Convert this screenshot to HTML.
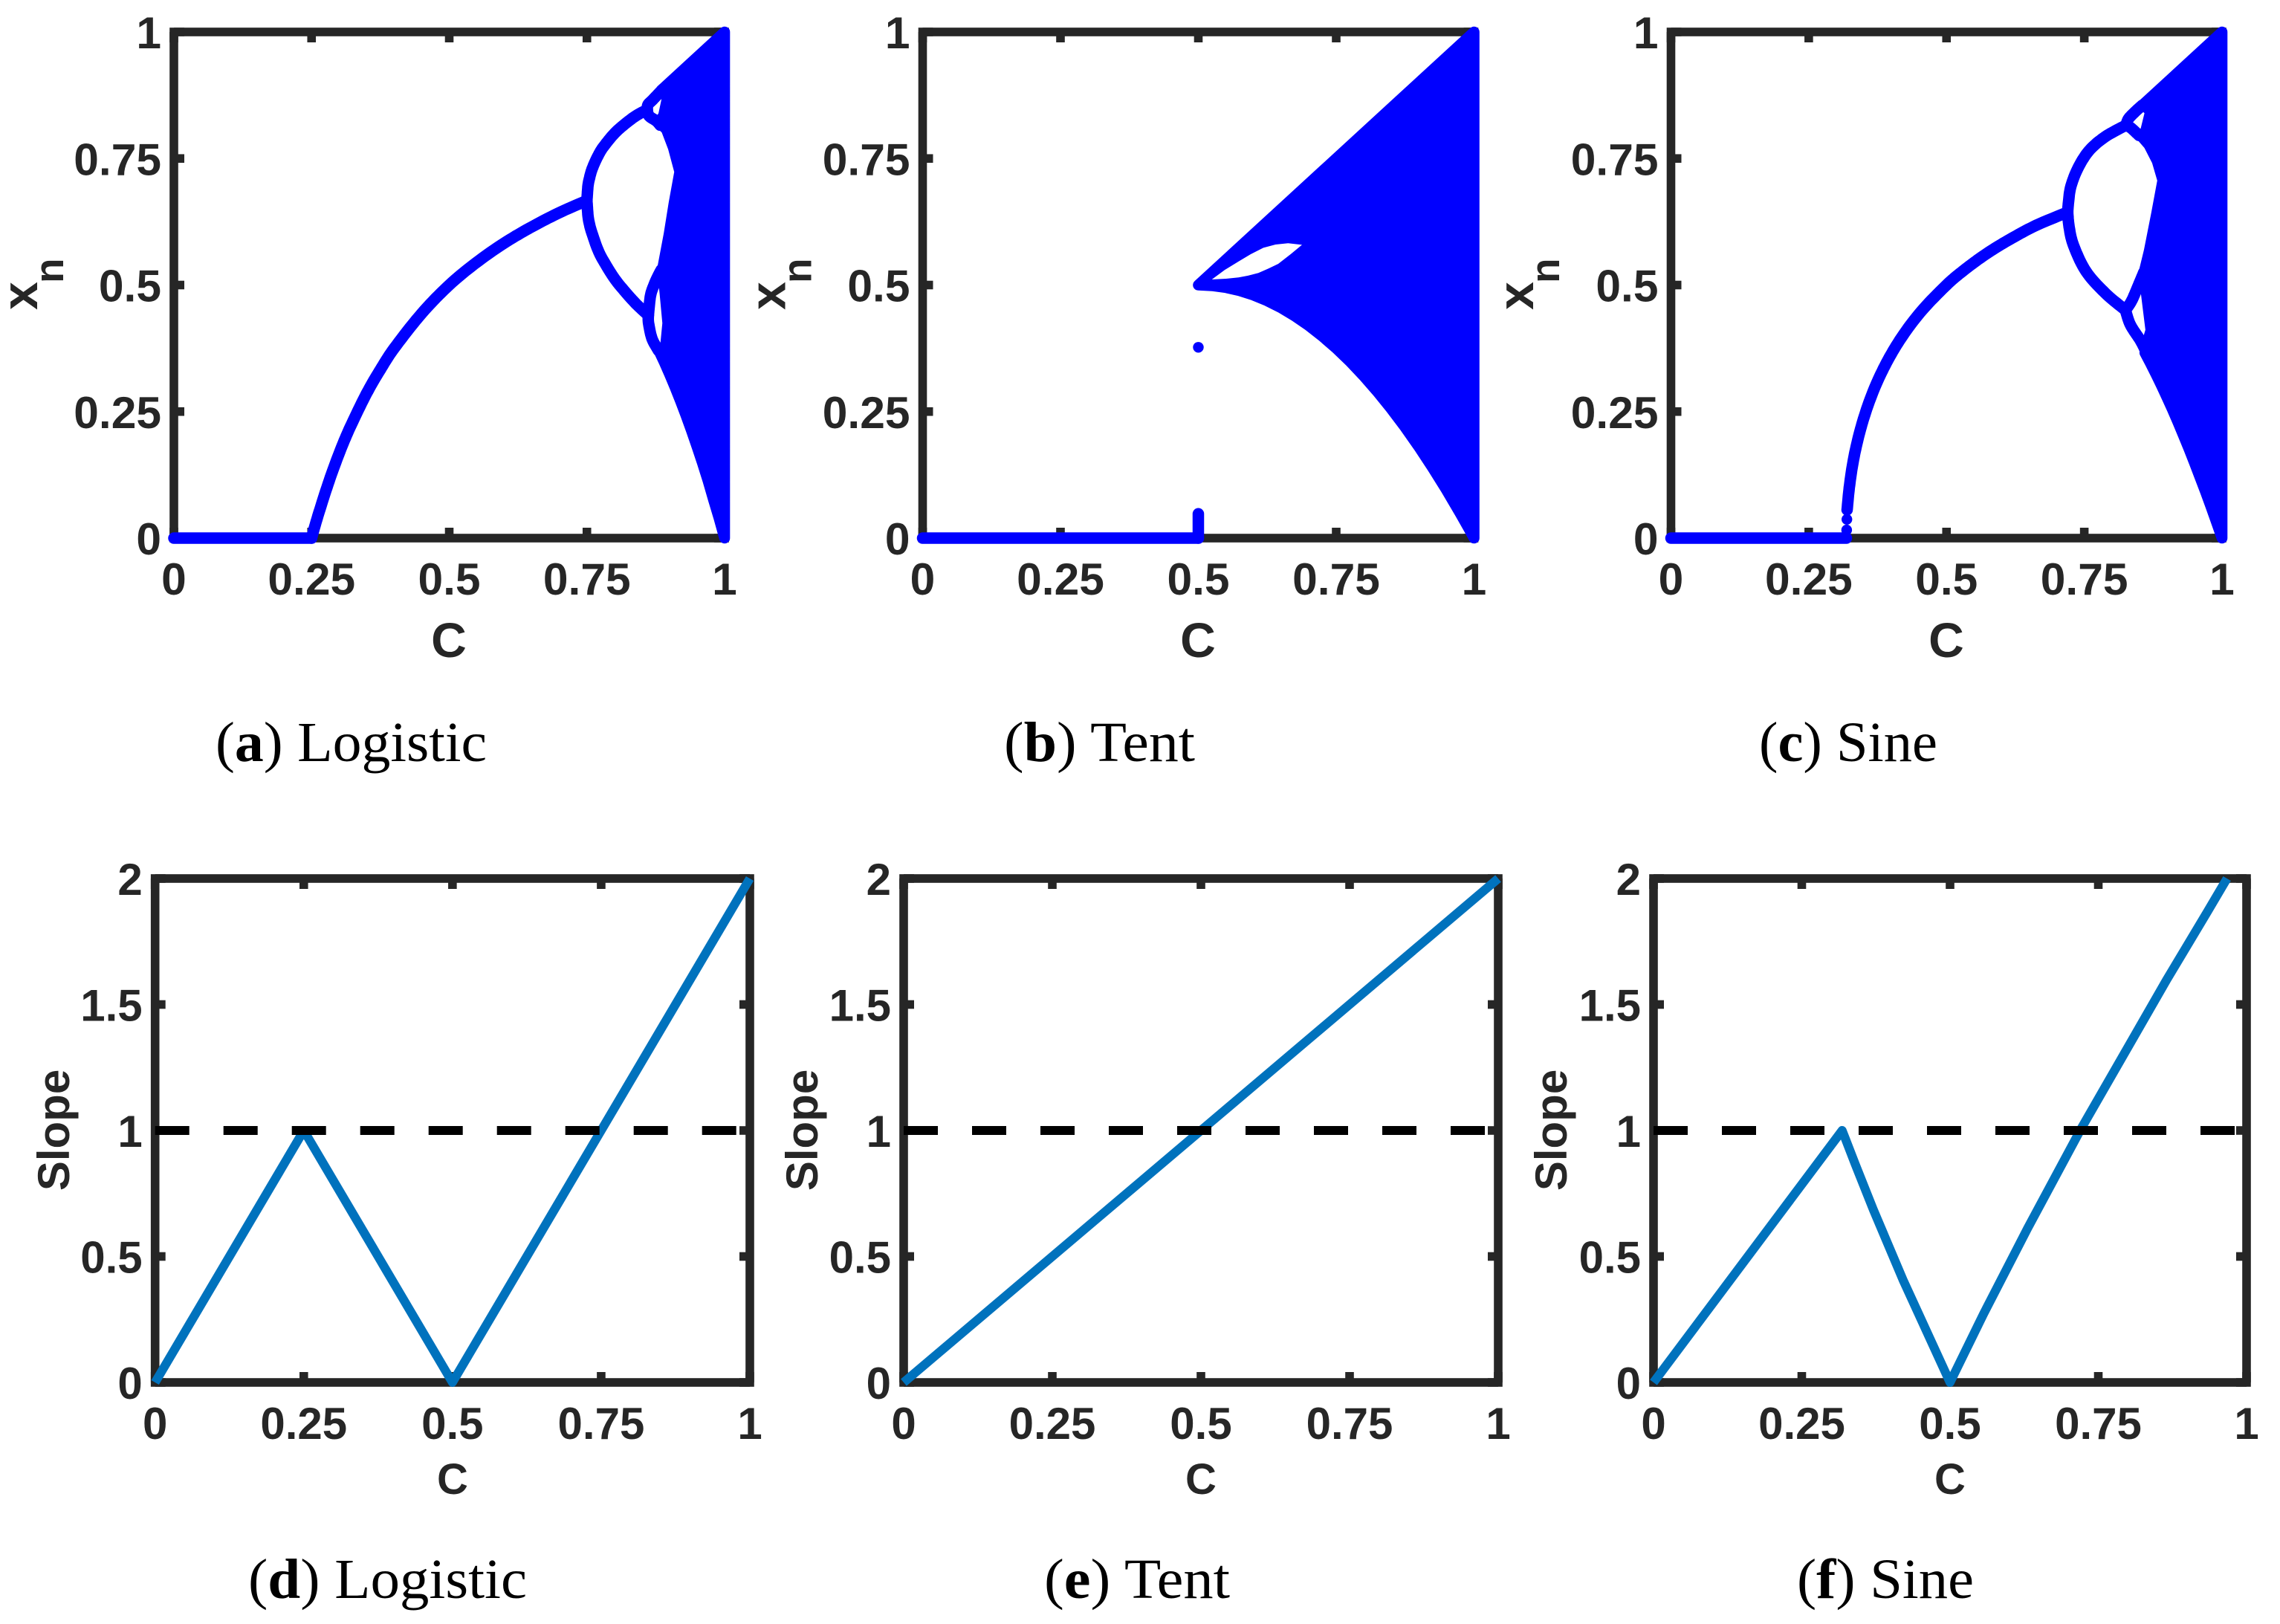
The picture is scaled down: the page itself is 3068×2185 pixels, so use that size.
<!DOCTYPE html>
<html lang="en">
<head>
<meta charset="utf-8">
<title>Bifurcation diagrams and slope plots</title>
<style>
html,body{margin:0;padding:0;background:#fff;}
svg{display:block;}
.tick{font-family:"Liberation Sans",Arial,sans-serif;font-weight:700;fill:#262626;}
.title{font-family:"Liberation Sans",Arial,sans-serif;font-weight:700;fill:#262626;}
.cap{font-family:"Liberation Serif",serif;font-size:76px;fill:#000;}
.cap tspan{font-weight:700;}
</style>
</head>
<body>
<svg id="fig" xmlns="http://www.w3.org/2000/svg" width="3068" height="2185" viewBox="0 0 3068 2185">
  <rect x="0" y="0" width="3068" height="2185" fill="#fff"/>

  <g id="panel-a"></g>
  <g id="panel-b"></g>
  <g id="panel-c"></g>
  <g id="panel-d"></g>
  <g id="panel-e"></g>
  <g id="panel-f"></g>

  <text class="title" x="604" y="884" font-size="66" text-anchor="middle">C</text>
  <text class="title" x="1612" y="884" font-size="66" text-anchor="middle">C</text>
  <text class="title" x="2619" y="884" font-size="66" text-anchor="middle">C</text>
  <text class="title" x="609" y="2010" font-size="58" text-anchor="middle">C</text>
  <text class="title" x="1616" y="2010" font-size="58" text-anchor="middle">C</text>
  <text class="title" x="2624" y="2010" font-size="58" text-anchor="middle">C</text>

  <g>
    <text class="title" transform="translate(50,417) rotate(-90)" font-size="68">x</text>
    <text class="title" transform="translate(85,381) rotate(-90)" font-size="55">n</text>
  </g>
  <g>
    <text class="title" transform="translate(1056.5,417) rotate(-90)" font-size="68">x</text>
    <text class="title" transform="translate(1091.5,381) rotate(-90)" font-size="55">n</text>
  </g>
  <g>
    <text class="title" transform="translate(2063,417) rotate(-90)" font-size="68">x</text>
    <text class="title" transform="translate(2098,381) rotate(-90)" font-size="55">n</text>
  </g>
  <text class="title" transform="translate(93,1520.5) rotate(-90)" font-size="60" text-anchor="middle">Slope</text>
  <text class="title" transform="translate(1100,1520.5) rotate(-90)" font-size="60" text-anchor="middle">Slope</text>
  <text class="title" transform="translate(2108,1520.5) rotate(-90)" font-size="60" text-anchor="middle">Slope</text>

  <text class="cap" x="290" y="1024" textLength="365" lengthAdjust="spacingAndGlyphs">(<tspan>a</tspan>) Logistic</text>
  <text class="cap" x="1351" y="1024" textLength="257" lengthAdjust="spacingAndGlyphs">(<tspan>b</tspan>) Tent</text>
  <text class="cap" x="2367" y="1024" textLength="240" lengthAdjust="spacingAndGlyphs">(<tspan>c</tspan>) Sine</text>
  <text class="cap" x="334" y="2150" textLength="375" lengthAdjust="spacingAndGlyphs">(<tspan>d</tspan>) Logistic</text>
  <text class="cap" x="1405" y="2150" textLength="250" lengthAdjust="spacingAndGlyphs">(<tspan>e</tspan>) Tent</text>
  <text class="cap" x="2418" y="2150" textLength="238" lengthAdjust="spacingAndGlyphs">(<tspan>f</tspan>) Sine</text>
</svg>

<script>
// ---------- tick labels ----------
var cTicks = [0, 0.25, 0.5, 0.75, 1];
var xnTicks = [0, 0.25, 0.5, 0.75, 1];
var slopeTicks = [0, 0.5, 1, 1.5, 2];

// ---------- logistic bifurcation values ----------
var logisticZeroC = [0, 0.25];
var logisticZeroX = [0, 0];
var logisticFixedC = [0.25, 0.26, 0.28, 0.3, 0.32, 0.35, 0.375, 0.4, 0.45, 0.5, 0.55, 0.6, 0.65, 0.7, 0.75];
var logisticFixedX = [0, 0.0385, 0.107, 0.167, 0.219, 0.286, 0.333, 0.375, 0.444, 0.5, 0.545, 0.583, 0.615, 0.643, 0.667];
var logisticUpperC = [0.75, 0.752, 0.755, 0.76, 0.77, 0.78, 0.8, 0.82, 0.84, 0.8595];
var logisticUpperX = [0.667, 0.696, 0.7125, 0.731, 0.755, 0.773, 0.7995, 0.819, 0.835, 0.8465];
var logisticLowerC = [0.75, 0.752, 0.755, 0.76, 0.77, 0.78, 0.8, 0.82, 0.84, 0.8616];
var logisticLowerX = [0.667, 0.637, 0.6186, 0.6, 0.5696, 0.548, 0.513, 0.486, 0.462, 0.44];
var logisticLoop1C = [0.8595, 0.861, 0.8695, 0.883];
var logisticLoop1X = [0.8465, 0.8565, 0.866, 0.8815];
var logisticLoop2C = [0.8595, 0.8628, 0.8763, 0.883];
var logisticLoop2X = [0.8465, 0.8342, 0.824, 0.8158];
var logisticLoop3C = [0.8616, 0.8655, 0.8727, 0.8799, 0.885];
var logisticLoop3X = [0.44, 0.4789, 0.5025, 0.5195, 0.53];
var logisticLoop4C = [0.8616, 0.862, 0.8682, 0.8799];
var logisticLoop4X = [0.44, 0.4248, 0.3943, 0.3706];
var logisticChaosC = [0.885, 1, 1, 0.99, 0.98, 0.97, 0.96, 0.95, 0.94, 0.93, 0.92, 0.91, 0.9, 0.89, 0.88, 0.8925, 0.8969, 0.8916, 0.887, 0.8992, 0.9082, 0.9186, 0.9069, 0.8943, 0.8813, 0.8893, 0.8961];
var logisticChaosX = [0.885, 1, 0, 0.0392, 0.0753, 0.1129, 0.1475, 0.1805, 0.212, 0.2421, 0.2708, 0.2981, 0.324, 0.3486, 0.3717, 0.375, 0.4246, 0.486, 0.53, 0.6, 0.6615, 0.724, 0.7717, 0.8076, 0.8208, 0.8355, 0.87];

// ---------- tent bifurcation values ----------
var tentZeroC = [0, 0.5];
var tentZeroX = [0, 0];
var tentStemC = [0.5, 0.5];
var tentStemX = [0, 0.048];
var tentDotC = [0.5];
var tentDotX = [0.377];
var tentChaosC = [0.5, 1, 1, 0.99, 0.975, 0.95, 0.925, 0.9, 0.875, 0.85, 0.825, 0.8, 0.775, 0.75, 0.725, 0.7, 0.675, 0.65, 0.625, 0.6, 0.575, 0.55, 0.525];
var tentChaosX = [0.5, 1, 0, 0.0198, 0.04875, 0.095, 0.13875, 0.18, 0.21875, 0.255, 0.28875, 0.32, 0.34875, 0.375, 0.39875, 0.42, 0.43875, 0.455, 0.46875, 0.48, 0.48875, 0.495, 0.49875];
var tentGapC = [0.5245, 0.548, 0.573, 0.595, 0.6179, 0.64, 0.6628, 0.688, 0.668, 0.6449, 0.627, 0.6089, 0.59, 0.573, 0.55];
var tentGapX = [0.511, 0.53, 0.5467, 0.561, 0.5736, 0.58, 0.5825, 0.5795, 0.5615, 0.5419, 0.5325, 0.5238, 0.5185, 0.515, 0.5125];

// ---------- sine bifurcation values ----------
var sineZeroC = [0, 0.3183];
var sineZeroX = [0, 0];
var sineFixedC = [0.3196, 0.3236, 0.3304, 0.3403, 0.3536, 0.3708, 0.3928, 0.4206, 0.4556, 0.5, 0.5266, 0.5569, 0.5913, 0.6309, 0.6668, 0.7199];
var sineFixedX = [0.056, 0.1, 0.15, 0.2, 0.25, 0.3, 0.35, 0.4, 0.45, 0.5, 0.525, 0.55, 0.575, 0.6, 0.62, 0.644];
var sineDotC = [0.3188, 0.3192];
var sineDotX = [0.016, 0.037];
var sineUpperC = [0.7199, 0.7215, 0.7258, 0.7393, 0.7595, 0.7887, 0.8256];
var sineUpperX = [0.644, 0.665, 0.6954, 0.7327, 0.7665, 0.7935, 0.8158];
var sineLowerC = [0.7199, 0.7225, 0.7303, 0.7528, 0.7878, 0.8247];
var sineLowerX = [0.644, 0.615, 0.579, 0.5276, 0.4843, 0.4505];
var sineLoop1C = [0.8256, 0.83, 0.84, 0.855];
var sineLoop1X = [0.8158, 0.828, 0.84, 0.855];
var sineLoop2C = [0.8256, 0.8345, 0.8494];
var sineLoop2X = [0.8158, 0.8105, 0.7956];
var sineLoop3C = [0.8247, 0.8359, 0.8494, 0.858];
var sineLoop3X = [0.4505, 0.4687, 0.5025, 0.525];
var sineLoop4C = [0.8247, 0.8337, 0.8516, 0.8606];
var sineLoop4X = [0.4505, 0.4214, 0.3909, 0.372];
var sineChaosC = [0.857, 1, 1, 0.99, 0.98, 0.97, 0.96, 0.95, 0.94, 0.93, 0.92, 0.91, 0.9, 0.89, 0.88, 0.87, 0.86, 0.8665, 0.871, 0.862, 0.858, 0.8678, 0.8813, 0.8925, 0.8823, 0.8674, 0.8557, 0.862, 0.8701];
var sineChaosX = [0.857, 1, 0, 0.0311, 0.0615, 0.0913, 0.1203, 0.1486, 0.1762, 0.2027, 0.2288, 0.2539, 0.2781, 0.3014, 0.3239, 0.3455, 0.3662, 0.3943, 0.4105, 0.4888, 0.5228, 0.5668, 0.6413, 0.7069, 0.7452, 0.7768, 0.7915, 0.807, 0.8429];

// ---------- slope values ----------
var logisticSlopeC = [0, 0.25, 0.5, 1];
var logisticSlopeS = [0, 1, 0, 2];
var tentSlopeC = [0, 1];
var tentSlopeS = [0, 2];
var sineSlopeC = [0, 0.318, 0.3236, 0.3403, 0.3708, 0.4206, 0.5, 0.5569, 0.6309, 0.7206, 0.8653, 0.9345, 0.967];
var sineSlopeS = [0, 1, 0.967, 0.865, 0.685, 0.408, 0, 0.2737, 0.6124, 1.005, 1.598, 1.87, 2];
var thresholdC = [0, 1];
var thresholdS = [1, 1];

var NS = 'http://www.w3.org/2000/svg';
var MARKER = '#0000ff';
var INK = '#262626';

function node(parent, tag) {
  var el = document.createElementNS(NS, tag);
  parent.appendChild(el);
  return el;
}
function scaleX(ax, v) { return ax.left + (ax.right - ax.left) * v / ax.xMax; }
function scaleY(ax, v) { return ax.bottom - (ax.bottom - ax.top) * v / ax.yMax; }
function pointsOf(ax, xs, ys) {
  var out = [];
  for (var i = 0; i < xs.length; i++) out.push(scaleX(ax, xs[i]).toFixed(1) + ',' + scaleY(ax, ys[i]).toFixed(1));
  return out.join(' ');
}
// Catmull-Rom smoothing through the data values, in pixel space
function smoothPointsOf(ax, xs, ys) {
  var px = xs.map(function (v) { return scaleX(ax, v); });
  var py = ys.map(function (v) { return scaleY(ax, v); });
  var n = px.length, out = [];
  if (n < 3) return pointsOf(ax, xs, ys);
  for (var i = 0; i < n - 1; i++) {
    var a = Math.max(i - 1, 0), b = i, c = i + 1, d = Math.min(i + 2, n - 1);
    for (var k = 0; k < 10; k++) {
      var t = k / 10, t2 = t * t, t3 = t2 * t;
      var x = 0.5 * (2 * px[b] + (px[c] - px[a]) * t + (2 * px[a] - 5 * px[b] + 4 * px[c] - px[d]) * t2 + (3 * px[b] - px[a] - 3 * px[c] + px[d]) * t3);
      var y = 0.5 * (2 * py[b] + (py[c] - py[a]) * t + (2 * py[a] - 5 * py[b] + 4 * py[c] - py[d]) * t2 + (3 * py[b] - py[a] - 3 * py[c] + py[d]) * t3);
      out.push(x.toFixed(1) + ',' + y.toFixed(1));
    }
  }
  out.push(px[n - 1].toFixed(1) + ',' + py[n - 1].toFixed(1));
  return out.join(' ');
}
function drawAxes(g, ax, yTicks, fontSize) {
  var frame = node(g, 'rect');
  
  
  frame.setAttribute('x', ax.left);
  frame.setAttribute('y', ax.top);
  frame.setAttribute('width', ax.right - ax.left);
  frame.setAttribute('height', ax.bottom - ax.top);
  frame.setAttribute('fill', 'none');
  frame.setAttribute('stroke', INK);
  frame.setAttribute('stroke-width', '11.6');
  cTicks.forEach(function (t) {
    var x = scaleX(ax, t);
    [[ax.bottom, ax.bottom - 14], [ax.top, ax.top + 14]].forEach(function (p) {
      var m = node(g, 'line');
      
      
      m.setAttribute('x1', x);
      m.setAttribute('x2', x);
      m.setAttribute('y1', p[0]);
      m.setAttribute('y2', p[1]);
      m.setAttribute('stroke', INK);
      m.setAttribute('stroke-width', '11.6');
    });
    var label = node(g, 'text');
    
    
    label.setAttribute('class', 'tick');
    label.setAttribute('x', x);
    label.setAttribute('y', ax.bottom + 76);
    label.setAttribute('font-size', fontSize);
    label.setAttribute('text-anchor', 'middle');
    label.textContent = String(t);
  });
  yTicks.forEach(function (t) {
    var y = scaleY(ax, t);
    [[ax.left, ax.left + 14], [ax.right, ax.right - 14]].forEach(function (p) {
      var m = node(g, 'line');
      
      
      m.setAttribute('x1', p[0]);
      m.setAttribute('x2', p[1]);
      m.setAttribute('y1', y);
      m.setAttribute('y2', y);
      m.setAttribute('stroke', INK);
      m.setAttribute('stroke-width', '11.6');
    });
    var label = node(g, 'text');
    
    
    label.setAttribute('class', 'tick');
    label.setAttribute('x', ax.left - 17);
    label.setAttribute('y', y + 22);
    label.setAttribute('font-size', fontSize);
    label.setAttribute('text-anchor', 'end');
    label.textContent = String(t);
  });
}
function drawBranch(g, ax, xs, ys) {
  var l = node(g, 'polyline');
  
  
  l.setAttribute('points', smoothPointsOf(ax, xs, ys));
  l.setAttribute('fill', 'none');
  l.setAttribute('stroke', MARKER);
  l.setAttribute('stroke-width', '15.5');
  l.setAttribute('stroke-linecap', 'round');
  l.setAttribute('stroke-linejoin', 'round');
}
function drawChaos(g, ax, xs, ys) {
  var p = node(g, 'polygon');
  
  
  p.setAttribute('points', pointsOf(ax, xs, ys));
  p.setAttribute('fill', MARKER);
  p.setAttribute('stroke', MARKER);
  p.setAttribute('stroke-width', '14.6');
  p.setAttribute('stroke-linejoin', 'round');
}
function drawGap(g, ax, xs, ys) {
  var p = node(g, 'polygon');
  
  
  p.setAttribute('points', pointsOf(ax, xs, ys));
  p.setAttribute('fill', '#fff');
}
function drawDots(g, ax, xs, ys, r) {
  xs.forEach(function (v, i) {
    var c = node(g, 'circle');
    
    
    c.setAttribute('cx', scaleX(ax, v));
    c.setAttribute('cy', scaleY(ax, ys[i]));
    c.setAttribute('r', r);
    c.setAttribute('fill', MARKER);
  });
}
function drawSlope(g, ax, xs, ys) {
  var l = node(g, 'polyline');
  
  
  l.setAttribute('points', pointsOf(ax, xs, ys));
  l.setAttribute('fill', 'none');
  l.setAttribute('stroke', '#0072BD');
  l.setAttribute('stroke-width', '12');
  l.setAttribute('stroke-linejoin', 'round');
  var d = node(g, 'polyline');
  
  
  d.setAttribute('points', pointsOf(ax, thresholdC, thresholdS));
  d.setAttribute('fill', 'none');
  d.setAttribute('stroke', '#000');
  d.setAttribute('stroke-width', '12');
  d.setAttribute('stroke-dasharray', '46 46');
}

var axA = { left: 234, right: 975, top: 43, bottom: 724, xMax: 1, yMax: 1 };
var axB = { left: 1241.5, right: 1983.5, top: 43, bottom: 724, xMax: 1, yMax: 1 };
var axC = { left: 2248.5, right: 2990, top: 43, bottom: 724, xMax: 1, yMax: 1 };
var axD = { left: 208.7, right: 1009, top: 1182, bottom: 1860, xMax: 1, yMax: 2 };
var axE = { left: 1216, right: 2016, top: 1182, bottom: 1860, xMax: 1, yMax: 2 };
var axF = { left: 2225, right: 3023, top: 1182, bottom: 1860, xMax: 1, yMax: 2 };

var gA = document.getElementById('panel-a');
drawAxes(gA, axA, xnTicks, 60.5);
drawChaos(gA, axA, logisticChaosC, logisticChaosX);
drawBranch(gA, axA, logisticZeroC, logisticZeroX);
drawBranch(gA, axA, logisticFixedC, logisticFixedX);
drawBranch(gA, axA, logisticUpperC, logisticUpperX);
drawBranch(gA, axA, logisticLowerC, logisticLowerX);
drawBranch(gA, axA, logisticLoop1C, logisticLoop1X);
drawBranch(gA, axA, logisticLoop2C, logisticLoop2X);
drawBranch(gA, axA, logisticLoop3C, logisticLoop3X);
drawBranch(gA, axA, logisticLoop4C, logisticLoop4X);

var gB = document.getElementById('panel-b');
drawAxes(gB, axB, xnTicks, 60.5);
drawChaos(gB, axB, tentChaosC, tentChaosX);
drawGap(gB, axB, tentGapC, tentGapX);
drawBranch(gB, axB, tentZeroC, tentZeroX);
drawBranch(gB, axB, tentStemC, tentStemX);
drawDots(gB, axB, tentDotC, tentDotX, 7.2);

var gC = document.getElementById('panel-c');
drawAxes(gC, axC, xnTicks, 60.5);
drawChaos(gC, axC, sineChaosC, sineChaosX);
drawBranch(gC, axC, sineZeroC, sineZeroX);
drawBranch(gC, axC, sineFixedC, sineFixedX);
drawDots(gC, axC, sineDotC, sineDotX, 7.2);
drawBranch(gC, axC, sineUpperC, sineUpperX);
drawBranch(gC, axC, sineLowerC, sineLowerX);
drawBranch(gC, axC, sineLoop1C, sineLoop1X);
drawBranch(gC, axC, sineLoop2C, sineLoop2X);
drawBranch(gC, axC, sineLoop3C, sineLoop3X);
drawBranch(gC, axC, sineLoop4C, sineLoop4X);

var gD = document.getElementById('panel-d');
drawAxes(gD, axD, slopeTicks, 60);
drawSlope(gD, axD, logisticSlopeC, logisticSlopeS);

var gE = document.getElementById('panel-e');
drawAxes(gE, axE, slopeTicks, 60);
drawSlope(gE, axE, tentSlopeC, tentSlopeS);

var gF = document.getElementById('panel-f');
drawAxes(gF, axF, slopeTicks, 60);
drawSlope(gF, axF, sineSlopeC, sineSlopeS);
</script>
</body>
</html>
